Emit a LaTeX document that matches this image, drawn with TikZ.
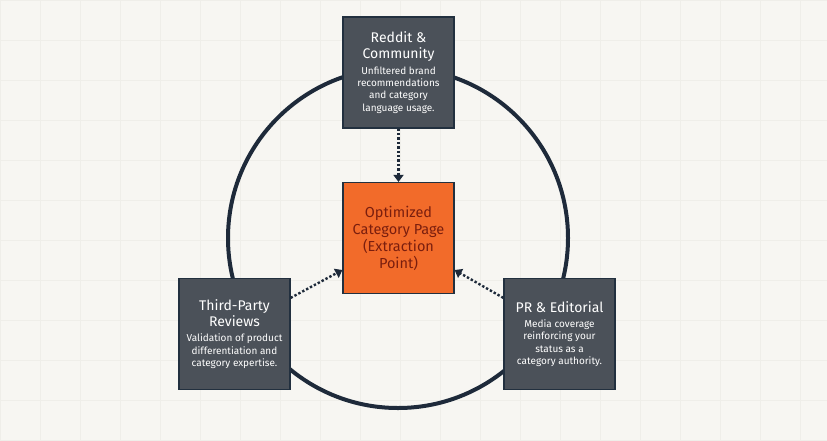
\documentclass[tikz,border=0pt]{standalone}
\usepackage{fontspec}
\setmainfont{Fira Sans}
\usetikzlibrary{arrows.meta}
\definecolor{bg}{HTML}{F7F6F2}
\definecolor{gridc}{HTML}{EFEEE9}
\definecolor{boxc}{HTML}{4B5159}
\definecolor{edgec}{HTML}{22303F}
\definecolor{ring}{HTML}{1E2A3A}
\definecolor{orng}{HTML}{F26B2A}
\definecolor{otext}{HTML}{7A1E0E}
\begin{document}
\begin{tikzpicture}[x=1pt,y=-1pt,
  box/.style={draw=edgec,line width=1.2pt,fill=boxc,minimum width=111pt,minimum height=111pt,text=white,align=center,inner sep=0pt},
  conn/.style={ring,line width=2.4pt,dotted,-{Triangle[length=7pt,width=10pt,line cap=butt]}}]
\useasboundingbox (0,0) rectangle (827,440);
\fill[bg] (0,0) rectangle (827,440);
\foreach \x in {0,40,...,827} \draw[gridc,line width=0.4pt] (\x,0) -- (\x,440);
\foreach \y in {0,40,...,440} \draw[gridc,line width=0.4pt] (0,\y) -- (827,\y);
\node[coordinate] (c) at (398,238) {};
\draw[ring,line width=4pt] (c) circle[radius=170];
\node[box] (top) at (398.5,72.5) {\parbox{108pt}{\centering{\fontsize{14}{16}\selectfont Reddit \&\\ Community\par}\vspace{3pt}{\fontsize{10}{12.3}\selectfont Unfiltered brand\\ recommendations\\ and category\\ language usage.\par}}};
\node[box,fill=orng,text=otext] (mid) at (398.5,238) {\parbox{108pt}{\centering\fontsize{14.5}{17}\selectfont Optimized\\ Category Page\\ (Extraction\\ Point)}};
\node[box] (left) at (234.5,334) {\parbox{108pt}{\centering{\fontsize{14}{16}\selectfont Third-Party\\ Reviews\par}\vspace{3pt}{\fontsize{10}{12.3}\selectfont Validation of product\\ differentiation and\\ category expertise.\par}}};
\node[box] (right) at (559.5,334) {\parbox{108pt}{\centering{\fontsize{14}{16}\selectfont PR \& Editorial\par}\vspace{3pt}{\fontsize{10}{12.3}\selectfont Media coverage\\ reinforcing your\\ status as a\\ category authority.\par}}};
\draw[conn] (top.south) -- (mid.north);
\draw[conn] ([yshift=-20pt]left.north east) -- ([yshift=-32pt]mid.west);
\draw[conn] ([yshift=-20pt]right.north west) -- ([yshift=-32pt]mid.east);
\end{tikzpicture}
\end{document}
